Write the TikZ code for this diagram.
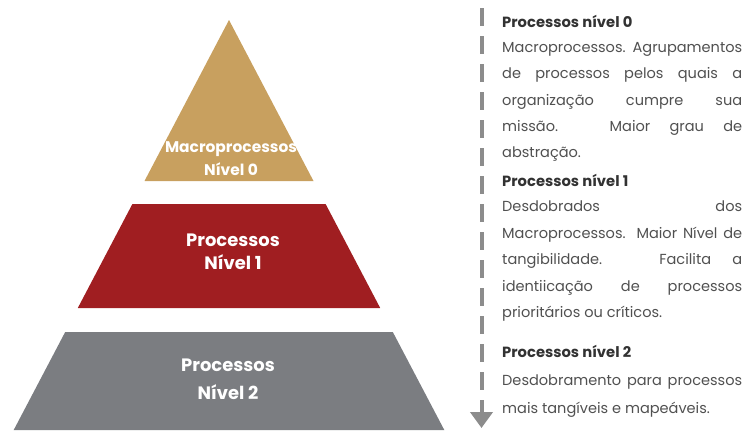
\documentclass[tikz,border=0pt]{standalone}
\usepackage{fontspec}
\setmainfont{Poppins}
\usetikzlibrary{arrows.meta}
\definecolor{gold}{RGB}{200,160,95}
\definecolor{crimson}{RGB}{160,30,33}
\definecolor{slate}{RGB}{123,125,129}
\definecolor{headgray}{RGB}{50,50,50}
\definecolor{bodygray}{RGB}{80,80,80}
\definecolor{dashgray}{RGB}{140,140,140}
\tikzstyle{levellabel} = [text=white, align=center, inner sep=0pt]
\tikzstyle{heading} = [anchor=base west, inner sep=0pt, text=headgray, font=\fontsize{14.8}{17}\selectfont\bfseries]
\tikzstyle{body} = [anchor=north west, inner sep=0pt, text width=240bp, align=justify, text=bodygray]
\tikzstyle{line} = [draw=dashgray, line width=4bp, dash pattern=on 18bp off 10bp, -{Triangle[width=22bp,length=16bp]}]

\begin{document}
\begin{tikzpicture}[x=1bp, y=-1bp]
    \useasboundingbox (0,0) rectangle (747,430);

    % Pyramid levels
    \fill [gold] (229,20) -- (313.5,181) -- (144.5,181) -- cycle;
    \fill [crimson] (132.4,204) -- (325.6,204) -- (380.2,308) -- (77.8,308) -- cycle;
    \fill [slate] (65.2,332) -- (392.8,332) -- (444.3,430) -- (13.7,430) -- cycle;

    \node [levellabel, font=\fontsize{15.5}{23.3}\selectfont\bfseries] (lvl0) at (231,158.4) {Macroprocessos\\Nível 0};
    \node [levellabel, font=\fontsize{18}{22.6}\selectfont\bfseries] (lvl1) at (233,252) {Processos\\Nível 1};
    \node [levellabel, font=\fontsize{18}{28}\selectfont\bfseries] (lvl2) at (228,379) {Processos\\Nível 2};

    % Descriptions
    \node [heading] (head0) at (502,27) {Processos nível 0};
    \node [body, font=\fontsize{14.6}{26.5}\selectfont] (desc0) at (502,42) {Macroprocessos. Agrupamentos\linebreak de processos pelos quais a\linebreak organização cumpre sua\linebreak missão. Maior grau de\linebreak abstração.};
    \node [heading] (head1) at (502,186) {Processos nível 1};
    \node [body, font=\fontsize{14.6}{26.5}\selectfont] (desc1) at (502,201) {Desdobrados dos\linebreak Macroprocessos. Maior Nível de\linebreak tangibilidade. Facilita a\linebreak identiicação de processos\linebreak prioritários ou críticos.};
    \node [heading] (head2) at (502,357) {Processos nível 2};
    \node [body, font=\fontsize{14.6}{28}\selectfont] (desc2) at (502,374.5) {Desdobramento para processos\linebreak mais tangíveis e mapeáveis.};

    % Dashed arrow
    \coordinate (start) at (481.5,8);
    \coordinate (tip) at (481.5,428);
    \path [line] (start) -- (tip);
\end{tikzpicture}
\end{document}
